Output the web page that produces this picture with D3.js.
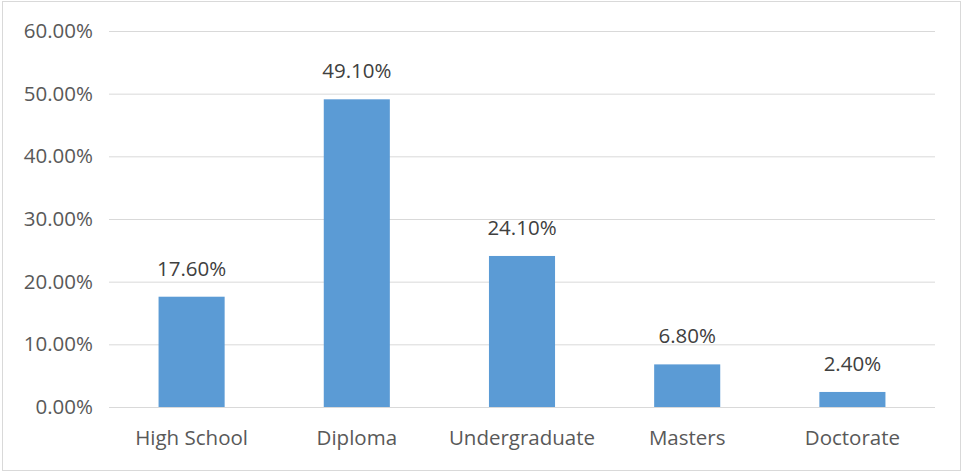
<!DOCTYPE html>
<html>
<head>
<meta charset="utf-8">
<script src="https://cdn.jsdelivr.net/npm/d3@7"></script>
<style>
  body { margin: 0; background: #fff; }
  text { font-family: 'Open Sans', sans-serif; fill: #595959; }
</style>
</head>
<body>
<script>
const categories = ['High School', 'Diploma', 'Undergraduate', 'Masters', 'Doctorate']
const values = [17.6, 49.1, 24.1, 6.8, 2.4]
const yTicks = [0, 10, 20, 30, 40, 50, 60]

const width = 962
const height = 472

const svg = d3.select('body').append('svg')
  .attr('width', width)
  .attr('height', height)

svg.append('rect')
  .attr('x', 2.5).attr('y', 1.5)
  .attr('width', width - 4).attr('height', height - 3)
  .attr('fill', '#fff')
  .attr('stroke', '#d9d9d9')

const x = d3.scaleBand().domain(categories).range([109, 935]).paddingInner(0.6).paddingOuter(0.3)
const y = d3.scaleLinear().domain([0, 60]).range([407, 31])

const yAxis = svg.append('g')
  .attr('transform', 'translate(109,0)')
  .call(d3.axisLeft(y).tickValues(yTicks).tickSize(-(935 - 109)).tickPadding(16).tickFormat(d => d.toFixed(2) + '%'))
yAxis.select('.domain').remove()
yAxis.selectAll('line').attr('stroke', '#d9d9d9')
yAxis.selectAll('text').style('font-size', '20.5px').attr('fill', '#595959')

svg.selectAll('.bar')
  .data(values)
  .enter().append('rect')
  .attr('class', 'bar')
  .attr('x', (d, i) => x(categories[i]))
  .attr('width', x.bandwidth())
  .attr('y', d => y(d))
  .attr('height', d => y(0) - y(d))
  .attr('fill', '#5b9bd5')

svg.selectAll('.val')
  .data(values)
  .enter().append('text')
  .attr('class', 'val')
  .attr('x', (d, i) => x(categories[i]) + x.bandwidth() / 2)
  .attr('y', d => y(d) - 21)
  .attr('text-anchor', 'middle')
  .style('font-size', '20.5px')
  .style('fill', '#404040')
  .text(d => d.toFixed(2) + '%')

svg.selectAll('.cat')
  .data(categories)
  .enter().append('text')
  .attr('class', 'cat')
  .attr('x', d => x(d) + x.bandwidth() / 2)
  .attr('y', 445)
  .attr('text-anchor', 'middle')
  .style('font-size', '20.5px')
  .text(d => d)
</script>
</body>
</html>
